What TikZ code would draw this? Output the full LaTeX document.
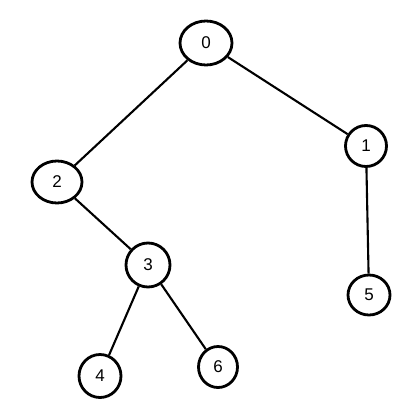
\documentclass[tikz,border=0pt]{standalone}
\usepackage{fontspec}
\setmainfont{Liberation Sans}
\usetikzlibrary{shapes.geometric}

\begin{document}
\begin{tikzpicture}[x=1pt, y=-1pt, every node/.style={font=\fontsize{17}{17}\selectfont}]
    \tikzset{vertex/.style={ellipse, draw, line width=2.8pt, inner sep=0pt, minimum width=44pt, minimum height=42pt}}
    \tikzset{edge/.style={draw, line width=2.1pt}}

    \useasboundingbox (0,0) rectangle (411,412);

    % Vertices
    \node [vertex, minimum width=52pt, minimum height=44pt] (v0) at (206,43) {0};
    \node [vertex, minimum width=41pt, minimum height=41pt] (v1) at (366,146) {1};
    \node [vertex, minimum width=50pt, minimum height=42pt] (v2) at (57,182) {2};
    \node [vertex, minimum width=44pt, minimum height=44pt] (v3) at (148,265) {3};
    \node [vertex, minimum width=42pt, minimum height=40pt] (v5) at (369,295) {5};
    \node [vertex, minimum width=42pt, minimum height=43pt] (v4) at (100,376) {4};
    \node [vertex, minimum width=39pt, minimum height=41pt] (v6) at (218,367) {6};

    % Edges
    \path [edge] (v0) -- (v2);
    \path [edge] (v0) -- (v1);
    \path [edge] (v1) -- (v5);
    \path [edge] (v2) -- (v3);
    \path [edge] (v3) -- (v4);
    \path [edge] (v3) -- (v6);
\end{tikzpicture}
\end{document}
